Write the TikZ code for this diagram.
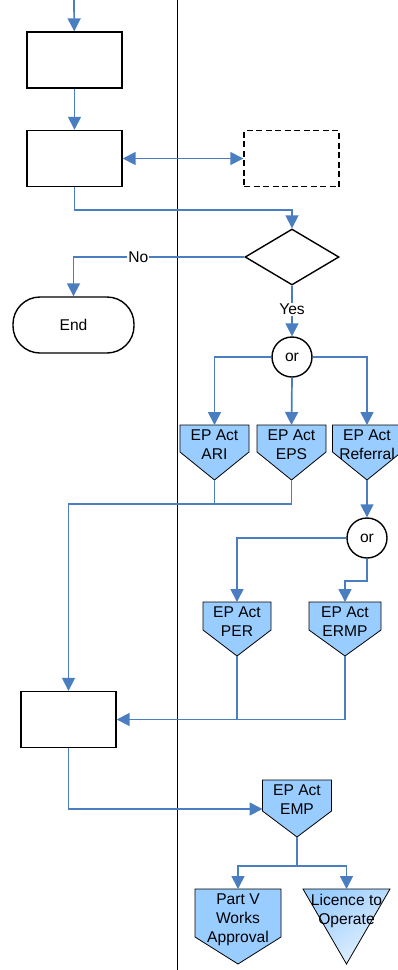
\documentclass[tikz,border=0pt]{standalone}
\usepackage{fontspec}
\setmainfont{Liberation Sans}
\usetikzlibrary{arrows.meta,shapes.geometric}
\definecolor{flowblue}{RGB}{74,126,193}
\definecolor{actfill}{RGB}{153,204,255}
\tikzset{
  flow/.style={draw=flowblue, line width=1.7pt, -{Triangle[length=13pt,width=13pt]}},
  link/.style={draw=flowblue, line width=1.7pt},
  dflow/.style={draw=flowblue, line width=1.7pt, {Triangle[length=13pt,width=13pt]}-{Triangle[length=13pt,width=13pt]}},
  stepbox/.style={draw, line width=1.4pt, minimum width=95pt, minimum height=56pt, inner sep=0pt},
  orgate/.style={draw, circle, line width=1.4pt, minimum size=40pt, inner sep=0pt, fill=white},
  acttext/.style={align=center, inner sep=0pt, anchor=north},
  lbl/.style={fill=white, inner sep=1pt}
}
% off-page shape: name, x, y top, half width, side, tip, text
\newcommand{\offpage}[7]{%
  \draw[line width=0.8pt, fill=actfill] (#2-#4,#3) -- (#2+#4,#3) -- (#2+#4,#3+#5)
    -- (#2,#3+#6) -- (#2-#4,#3+#5) -- cycle;
  \node[acttext] (#1) at (#2,#3+5) {#7};
  \coordinate (#1-in) at (#2,#3);
  \coordinate (#1-out) at (#2,#3+#6);
  \coordinate (#1-w) at (#2-#4,#3+#5-2);
}
\begin{document}
\begin{tikzpicture}[x=1pt, y=-1pt, font=\fontsize{15.6}{19}\selectfont]
  \useasboundingbox (0,0) rectangle (397,970);
  \draw[line width=0.8pt] (177,0) -- (177,970);

  \coordinate (start) at (74,0);
  \node[stepbox] (box1) at (74.5,60) {};
  \node[stepbox] (box2) at (74.5,158.5) {};
  \node[stepbox, dash pattern=on 6pt off 3.5pt] (ext) at (291.5,158.5) {};
  \node[draw, diamond, line width=1.4pt, minimum width=94pt, minimum height=56pt, inner sep=0pt] (dec) at (292,257) {};
  \node[draw, rectangle, rounded corners=27pt, line width=1.4pt, minimum width=121pt, minimum height=56pt] (end) at (73.5,325) {End};
  \node[orgate] (or1) at (292,357) {or};
  \offpage{ari}{214.5}{425}{34.5}{27}{55}{EP Act\\ARI}
  \offpage{eps}{291.5}{425}{34.5}{27}{55}{EP Act\\EPS}
  \offpage{ref}{367}{425}{34.5}{27}{55}{EP Act\\Referral}
  \node[orgate] (or2) at (367,538) {or};
  \offpage{per}{237}{602}{34}{28}{54}{EP Act\\PER}
  \offpage{ermp}{345}{602}{36}{28}{54}{EP Act\\ERMP}
  \node[stepbox] (box3) at (68.5,719.5) {};
  \offpage{emp}{297}{780}{34.5}{31}{57}{EP Act\\EMP}
  \offpage{partv}{238}{889}{43}{48}{75}{Part V\\Works\\Approval}
  \shade[top color=actfill, bottom color=actfill!25!white, shading angle=35]
    (303,889) -- (390,889) -- (346.5,964) -- cycle;
  \draw[line width=0.8pt] (303,889) -- (390,889) -- (346.5,964) -- cycle;
  \node[acttext] (lic) at (346.5,894) {Licence to\\Operate};
  \coordinate (lic-in) at (346.5,889);

  \draw[flow] (start) -- (box1);
  \draw[flow] (box1) -- (box2);
  \draw[dflow] (box2.east) -- (ext.west);
  \draw[flow] (box2.south) -- ++(0,23) -| (dec.north);
  \draw[flow] (dec.west) -| node[lbl, pos=0.31] {No} (end.north);
  \draw[flow] (dec.south) -- node[lbl, pos=0.47] {Yes} (or1.north);
  \draw[flow] (or1.west) -| (ari-in);
  \draw[flow] (or1.south) -- (eps-in);
  \draw[flow] (or1.east) -| (ref-in);
  \draw[link] (ari-out) -- ++(0,24);
  \draw[flow] (eps-out) -- ++(0,24) -| (box3.north);
  \draw[flow] (ref-out) -- (or2.north);
  \draw[flow] (or2.west) -| (per-in);
  \draw[flow] (or2.south) -- ++(0,22) -| (ermp-in);
  \draw[link] (per-out) -- (per-out |- box3.east);
  \draw[flow] (ermp-out) |- (box3.east);
  \draw[flow] (box3.south) |- (emp-w);
  \draw[link] (emp-out) -- ++(0,29) coordinate (split);
  \draw[flow] (split) -| (partv-in);
  \draw[flow] (split) -| (lic-in);
\end{tikzpicture}
\end{document}
